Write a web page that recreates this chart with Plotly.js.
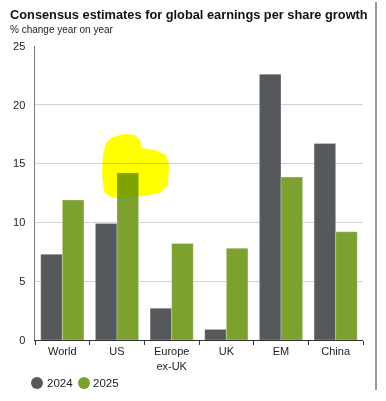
<!DOCTYPE html>
<html><head><meta charset="utf-8">
<script src="https://cdn.plot.ly/plotly-3.0.1.min.js"></script>
<style>html,body{margin:0;padding:0;background:#fff;}#chart{width:386px;height:401px;}</style>
</head><body><div id="chart"></div>
<script>
const categories = ['World', 'US', 'Europe<br>ex-UK', 'UK', 'EM', 'China'];
const series2024 = [7.3, 9.9, 2.7, 0.9, 22.6, 16.7];
const series2025 = [11.9, 14.2, 8.2, 7.8, 13.85, 9.2];
const seriesNames = ['2024', '2025'];
const yTicks = [0, 5, 10, 15, 20, 25];
const col2024 = '#56595c';
const col2025 = '#7ca12f';
const font = 'Liberation Sans, Arial, sans-serif';

const L = 35, R = 363, T = 46, B = 340;
const px = x => (x - L) / (R - L);
const py = y => (B - y) / (B - T);

const traces = [
  {type:'bar', x:categories, y:series2024, name:seriesNames[0], marker:{color:col2024, line:{color:'rgba(255,255,255,0.35)', width:0.8}}, hoverinfo:'none'},
  {type:'bar', x:categories, y:series2025, name:seriesNames[1], marker:{color:col2025, line:{color:'rgba(255,255,255,0.35)', width:0.8}}, hoverinfo:'none'}
];

// highlighter scribble (pixel outline converted to paper coords)
const blob = [[112,137],[125,134],[135,135],[140,140],[142,148],[155,150],[166,155],[169,165],[168,185],[160,193],[145,196],[125,197],[112,198],[104,192],[102,175],[103,155],[106,143]];
const blobPath = 'M' + blob.map(p => px(p[0]).toFixed(4) + ',' + py(p[1]).toFixed(4)).join(' L') + ' Z';

// custom legend: circle + label
const legendItems = [{cx:37, tx:47, color:col2024, name:seriesNames[0]}, {cx:84, tx:93, color:col2025, name:seriesNames[1]}];
const legendY = 383;
const legendShapes = legendItems.map(it => ({type:'circle', xref:'paper', yref:'paper', xsizemode:'pixel', ysizemode:'pixel', xanchor:px(it.cx), yanchor:py(legendY), x0:-6, x1:6, y0:-6, y1:6, fillcolor:it.color, line:{width:0}}));
const legendAnns = legendItems.map(it => ({text:it.name, xref:'paper', yref:'paper', x:px(it.tx), y:py(legendY), xanchor:'left', yanchor:'middle', showarrow:false, font:{size:11.5, color:'#222'}, xshift:-2}));

const layout = {
  width:386, height:401,
  margin:{l:L, r:386-R, t:T, b:401-B, pad:0},
  paper_bgcolor:'#fff', plot_bgcolor:'#fff',
  font:{family:font, size:11, color:'#222'},
  barmode:'group', bargap:0.21, bargroupgap:0,
  showlegend:false,
  title:{text:'<b>Consensus estimates for global earnings per share growth</b>', font:{family:font, size:12.8, color:'#111'}, x:10/386, xanchor:'left', xref:'container', y:1-15/401, yanchor:'middle', yref:'container', automargin:false},
  xaxis:{type:'category', automargin:false, showline:true, linecolor:'#333', linewidth:1, ticks:'outside', tickson:'boundaries', ticklen:4, tickcolor:'#333', showgrid:false, tickfont:{size:11, color:'#222'}, ticklabelstandoff:1, fixedrange:true},
  yaxis:{automargin:false, range:[0,25], tickvals:yTicks, ticktext:yTicks.map(String), showline:true, linecolor:'#7a7a7a', linewidth:1.5, ticks:'', showgrid:true, gridcolor:'#d4d4d4', gridwidth:1, zeroline:false, tickfont:{size:11, color:'#222'}, ticklabelstandoff:6, fixedrange:true},
  annotations:[
    {text:'% change year on year', xref:'paper', yref:'paper', x:px(10), y:py(29.5), xanchor:'left', yanchor:'middle', showarrow:false, font:{size:10, color:'#222'}, xshift:-2}
  ].concat(legendAnns),
  shapes:[
    {type:'line', xref:'paper', yref:'paper', x0:px(376), x1:px(376), y0:py(2), y1:py(390), line:{color:'#333', width:1}},
    {type:'path', xref:'paper', yref:'paper', path:blobPath, fillcolor:'#ffff00', line:{width:0}, layer:'above', opacity:1}
  ].concat(legendShapes)
};

Plotly.newPlot('chart', traces, layout, {displayModeBar:false, staticPlot:true}).then(() => {
  document.querySelectorAll('.shapelayer path').forEach(p => {
    const f = p.style.fill || '';
    if (f.indexOf('255, 255, 0') >= 0) p.style.mixBlendMode = 'multiply';
  });
});
</script></body></html>
